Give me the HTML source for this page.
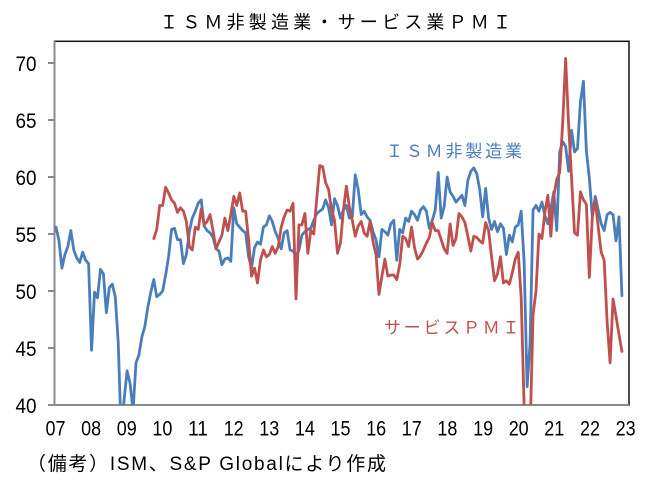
<!DOCTYPE html>
<html><head><meta charset="utf-8"><style>
html,body{margin:0;padding:0;background:#fff;width:654px;height:490px;overflow:hidden;}
svg{display:block;}
text{font-family:"Liberation Sans","Noto Sans CJK JP",sans-serif;}
</style></head><body>
<svg width="654" height="490" viewBox="0 0 654 490" xmlns="http://www.w3.org/2000/svg">
<defs><clipPath id="c" clipPathUnits="userSpaceOnUse"><rect x="54" y="41" width="575" height="364"/></clipPath></defs>
<rect width="654" height="490" fill="#fff"/>
<text x="160" y="28.5" font-size="18" textLength="351" fill="#000">ＩＳＭ非製造業・サービス業ＰＭＩ</text>
<rect x="54.5" y="41.3" width="574.5" height="363.7" fill="none" stroke="#111" stroke-width="1.5"/>
<g stroke="#8a8a8a" stroke-width="2">
<line x1="54.5" y1="41" x2="54.5" y2="406"/>
<line x1="54" y1="405" x2="629" y2="405"/>
<line x1="48" y1="63" x2="54" y2="63"/>
<line x1="48" y1="120" x2="54" y2="120"/>
<line x1="48" y1="177" x2="54" y2="177"/>
<line x1="48" y1="234" x2="54" y2="234"/>
<line x1="48" y1="291" x2="54" y2="291"/>
<line x1="48" y1="348" x2="54" y2="348"/>
<line x1="48" y1="405" x2="54" y2="405"/>
</g>
<g font-size="21.5" fill="#000" text-anchor="end">
<text x="36.5" y="70.8" textLength="21" lengthAdjust="spacingAndGlyphs">70</text>
<text x="36.5" y="127.8" textLength="21" lengthAdjust="spacingAndGlyphs">65</text>
<text x="36.5" y="184.8" textLength="21" lengthAdjust="spacingAndGlyphs">60</text>
<text x="36.5" y="241.8" textLength="21" lengthAdjust="spacingAndGlyphs">55</text>
<text x="36.5" y="298.8" textLength="21" lengthAdjust="spacingAndGlyphs">50</text>
<text x="36.5" y="355.8" textLength="21" lengthAdjust="spacingAndGlyphs">45</text>
<text x="36.5" y="412.8" textLength="21" lengthAdjust="spacingAndGlyphs">40</text>
</g>
<g font-size="21.5" fill="#000">
<text x="45.5" y="435.5" textLength="20" lengthAdjust="spacingAndGlyphs">07</text>
<text x="81.1" y="435.5" textLength="20" lengthAdjust="spacingAndGlyphs">08</text>
<text x="116.8" y="435.5" textLength="20" lengthAdjust="spacingAndGlyphs">09</text>
<text x="152.4" y="435.5" textLength="20" lengthAdjust="spacingAndGlyphs">10</text>
<text x="188.0" y="435.5" textLength="20" lengthAdjust="spacingAndGlyphs">11</text>
<text x="223.7" y="435.5" textLength="20" lengthAdjust="spacingAndGlyphs">12</text>
<text x="259.3" y="435.5" textLength="20" lengthAdjust="spacingAndGlyphs">13</text>
<text x="294.9" y="435.5" textLength="20" lengthAdjust="spacingAndGlyphs">14</text>
<text x="330.5" y="435.5" textLength="20" lengthAdjust="spacingAndGlyphs">15</text>
<text x="366.2" y="435.5" textLength="20" lengthAdjust="spacingAndGlyphs">16</text>
<text x="401.8" y="435.5" textLength="20" lengthAdjust="spacingAndGlyphs">17</text>
<text x="437.4" y="435.5" textLength="20" lengthAdjust="spacingAndGlyphs">18</text>
<text x="473.1" y="435.5" textLength="20" lengthAdjust="spacingAndGlyphs">19</text>
<text x="508.7" y="435.5" textLength="20" lengthAdjust="spacingAndGlyphs">20</text>
<text x="544.3" y="435.5" textLength="20" lengthAdjust="spacingAndGlyphs">21</text>
<text x="580.0" y="435.5" textLength="20" lengthAdjust="spacingAndGlyphs">22</text>
<text x="615.6" y="435.5" textLength="20" lengthAdjust="spacingAndGlyphs">23</text>
</g>
<g clip-path="url(#c)" fill="none" stroke-linejoin="round" stroke-linecap="round">
<polyline transform="translate(56,861) scale(2.963,-11.4)" vector-effect="non-scaling-stroke" stroke="#4a7ebb" stroke-width="2.8" points="0,55.6 1,54.4 2,52.0 3,53.2 4,53.9 5,55.3 6,53.6 7,52.9 8,52.5 9,53.4 10,52.7 11,52.4 12,44.8 13,49.9 14,49.4 15,51.9 16,51.5 17,48.1 18,50.3 19,50.6 20,49.5 21,45.5 22,37.5 23,40.5 24,43.0 25,41.9 26,39.5 27,43.7 28,44.4 29,46.0 30,46.9 31,48.6 32,49.9 33,51.0 34,49.5 35,49.7 36,50.0 37,51.4 38,53.0 39,55.4 40,55.5 41,54.5 42,54.5 43,52.4 44,53.2 45,55.2 46,56.4 47,57.0 48,57.7 49,58.0 50,55.7 51,55.3 52,55.1 53,54.7 54,53.7 55,53.5 56,52.3 57,52.8 58,52.9 59,52.6 60,57.3 61,55.9 62,55.6 63,55.3 64,55.1 65,53.0 66,52.0 67,53.8 68,54.3 69,54.1 70,55.6 71,55.8 72,56.6 73,56.1 74,55.2 75,54.6 76,53.7 77,55.1 78,55.3 79,53.6 80,53.5 81,53.1 82,53.6 83,54.9 84,55.2 85,55.4 86,55.5 87,56.2 88,56.8 89,57.0 90,57.2 91,58.0 92,57.3 93,55.8 94,58.1 95,57.5 96,56.4 97,57.1 98,57.5 99,56.4 100,56.5 101,60.2 102,58.9 103,56.7 104,57.0 105,56.5 106,56.2 107,55.2 108,54.5 109,53.0 110,55.4 111,55.2 112,54.9 113,55.9 114,56.2 115,52.7 116,55.4 117,55.1 118,56.4 119,56.1 120,57.0 121,56.7 122,56.2 123,57.1 124,57.4 125,57.0 126,55.5 127,56.2 128,57.1 129,60.4 130,56.4 131,57.4 132,60.0 133,58.7 134,58.3 135,57.8 136,58.1 137,58.4 138,57.5 139,59.7 140,60.5 141,60.8 142,60.3 143,58.9 144,56.5 145,59.0 146,56.4 147,55.4 148,56.1 149,55.2 150,55.9 151,55.5 152,53.2 153,54.9 154,54.3 155,55.6 156,55.8 157,57.0 158,52.5 159,41.6 160,45.4 161,57.1 162,57.5 163,57.0 164,57.8 165,56.6 166,55.9 167,57.2 168,58.7 169,55.3 170,62.2 171,63.1 172,62.7 173,60.5 174,64.1 175,62.2 176,62.5 177,66.6 178,68.4 179,62.3 180,59.9 181,56.5 182,58.3 183,57.1 184,55.9 185,55.3 186,56.7 187,56.9 188,56.7 189,54.4 190,56.5 191,49.6"/>
<polyline transform="translate(56,861) scale(2.963,-11.4)" vector-effect="non-scaling-stroke" stroke="#c0504d" stroke-width="2.8" points="33,54.6 34,55.4 35,57.5 36,57.5 37,59.1 38,58.6 39,58.0 40,57.7 41,56.9 42,57.3 43,57.0 44,56.1 45,53.9 46,53.6 47,55.6 48,55.4 49,57.2 50,55.8 51,56.1 52,56.7 53,55.3 54,53.7 55,54.3 56,54.9 57,56.4 58,55.3 59,56.7 60,58.3 61,57.5 62,58.6 63,57.0 64,57.0 65,54.5 66,51.3 67,52.0 68,50.7 69,52.7 70,53.6 71,53.0 72,53.2 73,53.9 74,53.3 75,53.9 76,55.6 77,56.5 78,57.1 79,57.0 80,57.7 81,49.3 82,55.8 83,55.8 84,56.8 85,53.3 86,55.3 87,55.0 88,58.1 89,61.0 90,60.9 91,59.5 92,58.9 93,57.1 94,56.2 95,53.3 96,54.2 97,57.1 98,59.2 99,57.4 100,56.2 101,54.8 102,55.7 103,56.1 104,55.1 105,54.8 106,56.1 107,54.3 108,53.2 109,49.7 110,51.3 111,52.8 112,51.3 113,51.4 114,51.4 115,51.0 116,52.3 117,54.8 118,54.6 119,53.9 120,55.6 121,53.8 122,52.8 123,53.1 124,53.6 125,54.2 126,54.7 127,56.0 128,55.3 129,55.3 130,54.5 131,53.7 132,53.3 133,55.9 134,54.0 135,54.6 136,56.8 137,56.5 138,56.0 139,54.8 140,53.5 141,54.8 142,54.7 143,54.4 144,54.2 145,56.0 146,55.3 147,53.0 148,50.9 149,51.5 150,53.0 151,50.7 152,50.9 153,50.6 154,51.6 155,52.8 156,53.4 157,49.4 158,39.8 159,33.0 160,37.5 161,47.9 162,50.0 163,55.0 164,54.6 165,56.9 166,58.4 167,54.8 168,58.3 169,59.8 170,60.4 171,64.7 172,70.4 173,64.6 174,59.9 175,55.1 176,54.9 177,58.7 178,58.0 179,57.6 180,51.2 181,56.5 182,58.0 183,55.6 184,53.4 185,52.7 186,47.3 187,43.7 188,49.3 189,47.8 190,46.2 191,44.7"/>
</g>
<text x="386" y="157" font-size="17" textLength="136" fill="#4a7ebb">ＩＳＭ非製造業</text>
<text x="384" y="333.5" font-size="17" textLength="135.5" fill="#c0504d">サービスＰＭＩ</text>
<text x="27" y="470" font-size="19" textLength="359" fill="#000">（備考）ISM、S&amp;P Globalにより作成</text>
</svg>
</body></html>
